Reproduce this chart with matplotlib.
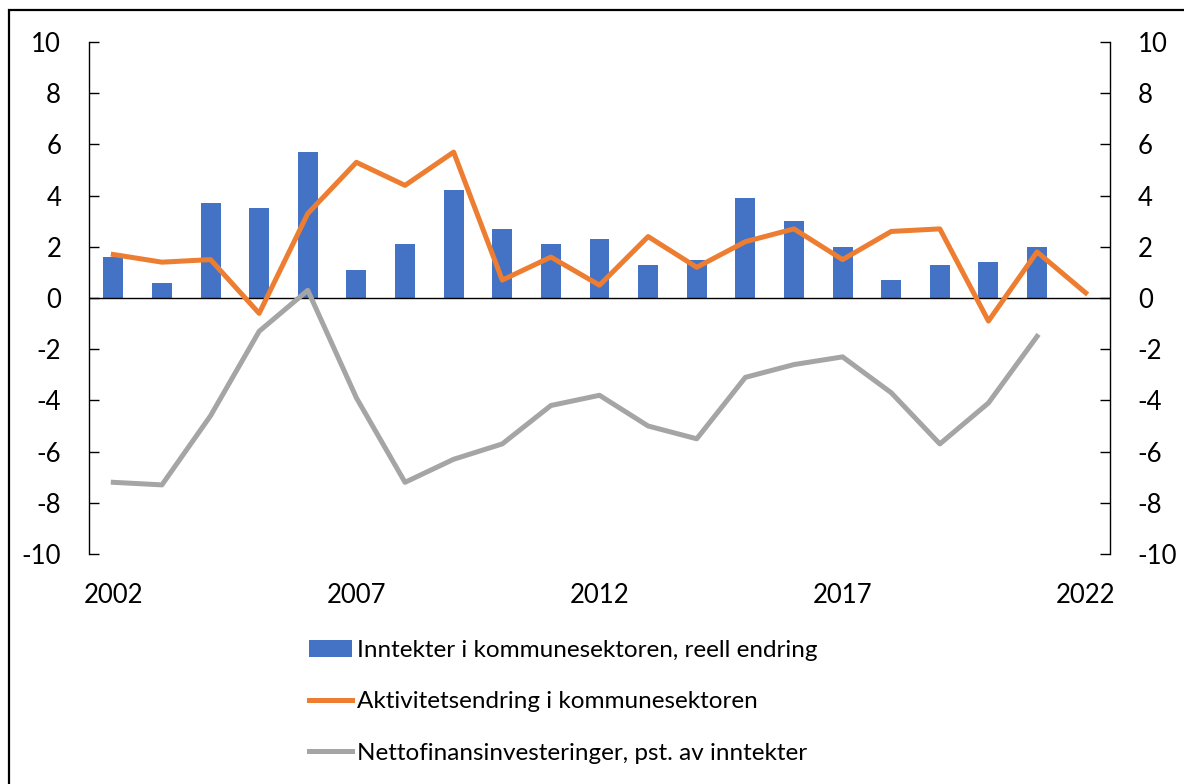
import matplotlib.pyplot as plt
from matplotlib.patches import Rectangle

# Data
years = list(range(2002, 2023))
bar_years = years[:-1]
inntekter = [1.6, 0.6, 3.7, 3.5, 5.7, 1.1, 2.1, 4.2, 2.7, 2.1,
             2.3, 1.3, 1.5, 3.9, 3.0, 2.0, 0.7, 1.3, 1.4, 2.0]
aktivitet = [1.7, 1.4, 1.5, -0.6, 3.3, 5.3, 4.4, 5.7, 0.7, 1.6,
             0.5, 2.4, 1.2, 2.2, 2.7, 1.5, 2.6, 2.7, -0.9, 1.8, 0.2]
netto_years = years[:-1]
netto = [-7.2, -7.3, -4.6, -1.3, 0.3, -3.9, -7.2, -6.3, -5.7, -4.2,
         -3.8, -5.0, -5.5, -3.1, -2.6, -2.3, -3.7, -5.7, -4.1, -1.5]

labels = ["Inntekter i kommunesektoren, reell endring",
          "Aktivitetsendring i kommunesektoren",
          "Nettofinansinvesteringer, pst. av inntekter"]
xticks = [2002, 2007, 2012, 2017, 2022]
yticks = list(range(-10, 11, 2))

plt.rcParams['font.family'] = ['Lato', 'DejaVu Sans']
plt.rcParams['axes.unicode_minus'] = False
tick_fs = 18.5
leg_fs = 17.5

fig = plt.figure(figsize=(11.84, 7.84), dpi=100)
ax = fig.add_axes([89 / 1184, 1 - 554 / 784, (1110 - 89) / 1184, (554 - 42) / 784])

# Series
b = ax.bar(bar_years, inntekter, width=0.41, color='#4472C4', zorder=2)
l1, = ax.plot(years, aktivitet, color='#ED7D31', lw=3.6, zorder=3)
l2, = ax.plot(netto_years, netto, color='#A5A5A5', lw=3.6, zorder=4)
ax.axhline(0, color='black', lw=1, zorder=2.5)

ax.set_xlim(2001.5, 2022.5)
ax.set_ylim(-10, 10)
ax.set_yticks(yticks)
ax.set_xticks(xticks)

for side in ['top', 'bottom']:
    ax.spines[side].set_visible(False)
for side in ['left', 'right']:
    ax.spines[side].set_linewidth(1)

ax.tick_params(axis='y', direction='in', length=7, width=1, left=True, right=True,
               labelleft=True, labelright=True, labelsize=tick_fs, pad=20)
ax.tick_params(axis='x', length=0, labelsize=tick_fs, pad=21)

# Legend below the plot, same order as the reference
fig.legend([b, l1, l2], labels, loc='upper left',
           bbox_to_anchor=(299 / 1184, 1 - 630 / 784),
           frameon=False, fontsize=leg_fs, handlelength=1.8, handletextpad=0.2,
           labelspacing=1.25, borderaxespad=0)

# Outer frame, open on the right and bottom like the reference crop
fig.add_artist(Rectangle((9 / 1184, -0.1), 1.2, 1.1 - 10 / 784, transform=fig.transFigure,
                         fill=False, edgecolor='black', lw=1.6))

fig.savefig('out.png', dpi=100)
